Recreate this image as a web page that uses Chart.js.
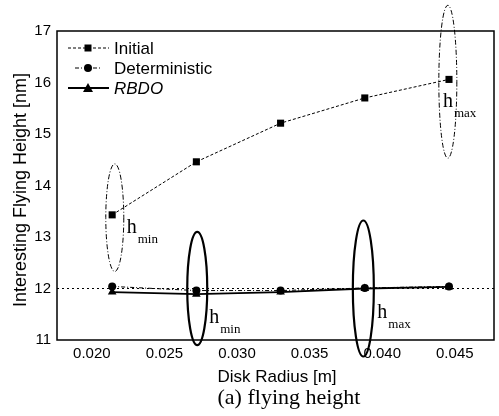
<!DOCTYPE html>
<html>
<head>
<meta charset="utf-8">
<script src="https://cdn.jsdelivr.net/npm/chart.js@4.4.0/dist/chart.umd.min.js"></script>
<style>
  html, body { margin: 0; padding: 0; background: #fff; }
  #wrap { width: 499px; height: 416px; }
</style>
</head>
<body>
<div id="wrap"><canvas id="myChart" width="499" height="416"></canvas></div>
<script>
// data
const radius = [0.0214, 0.0272, 0.0330, 0.0388, 0.0446];
const initial = [13.43, 14.46, 15.21, 15.70, 16.06];
const deterministic = [12.04, 11.96, 11.96, 12.01, 12.04];
const rbdo = [11.93, 11.89, 11.93, 12.00, 12.03];
const refLevel = 12;
const xRange = [0.0176, 0.0477];
const yRange = [11, 17];
const xTicks = [0.020, 0.025, 0.030, 0.035, 0.040, 0.045];
const yTicks = [11, 12, 13, 14, 15, 16, 17];
const seriesNames = ['Initial', 'Deterministic', 'RBDO'];

// highlight ellipses (data units, half width in px)
const ellipses = [
  { x: 0.02158, top: 14.42, bottom: 12.33, rx: 9, bold: false },
  { x: 0.02726, top: 13.10, bottom: 10.90, rx: 10, bold: true },
  { x: 0.03870, top: 13.32, bottom: 10.68, rx: 10.5, bold: true },
  { x: 0.04452, top: 17.50, bottom: 14.53, rx: 9, bold: false }
];
const hLabels = [
  { x: 0.0224, y: 13.08, sub: 'min' },
  { x: 0.02808, y: 11.33, sub: 'min' },
  { x: 0.03966, y: 11.43, sub: 'max' },
  { x: 0.04418, y: 15.52, sub: 'max' }
];

const sans = '"Liberation Sans", Arial, sans-serif';
const serif = '"Liberation Serif", "Times New Roman", serif';
const pts = (ys) => radius.map((r, i) => ({ x: r, y: ys[i] }));

const extras = {
  id: 'extras',
  afterDraw(chart) {
    const { ctx, chartArea: a, scales: { x, y } } = chart;
    ctx.save();
    // plot frame
    ctx.strokeStyle = '#000';
    ctx.lineWidth = 1.5;
    ctx.setLineDash([]);
    ctx.strokeRect(a.left, a.top, a.right - a.left, a.bottom - a.top);

    // ellipses
    ellipses.forEach(e => {
      const cx = x.getPixelForValue(e.x);
      const yt = y.getPixelForValue(e.top), yb = y.getPixelForValue(e.bottom);
      ctx.beginPath();
      ctx.ellipse(cx, (yt + yb) / 2, e.rx, (yb - yt) / 2, 0, 0, Math.PI * 2);
      ctx.lineWidth = e.bold ? 2.2 : 1;
      ctx.setLineDash(e.bold ? [] : [5, 2, 1, 2]);
      ctx.stroke();
    });
    ctx.setLineDash([]);

    // h labels
    ctx.fillStyle = '#000';
    ctx.textBaseline = 'alphabetic';
    ctx.textAlign = 'left';
    hLabels.forEach(l => {
      const px = x.getPixelForValue(l.x), py = y.getPixelForValue(l.y);
      ctx.font = '20px ' + serif;
      ctx.fillText('h', px, py);
      const w = ctx.measureText('h').width;
      ctx.font = '13px ' + serif;
      ctx.fillText(l.sub, px + w + 1, py + 10);
    });

    // legend
    const ds = chart.data.datasets;
    const rows = [48, 68, 88];
    [0, 1, 2].forEach(i => {
      const d = ds[i];
      const yy = rows[i];
      ctx.beginPath();
      ctx.strokeStyle = '#000';
      ctx.lineWidth = d.borderWidth;
      ctx.setLineDash(d.borderDash || []);
      ctx.moveTo(i === 1 ? 75 : 68, yy);
      ctx.lineTo(i === 1 ? 101 : 109, yy);
      ctx.stroke();
      ctx.setLineDash([]);
      const mx = 88;
      ctx.beginPath();
      if (d.pointStyle === 'rect') {
        ctx.rect(mx - 3.5, yy - 3.5, 7, 7);
      } else if (d.pointStyle === 'circle') {
        ctx.arc(mx, yy, 4, 0, Math.PI * 2);
      } else {
        ctx.moveTo(mx, yy - 5);
        ctx.lineTo(mx + 5, yy + 4);
        ctx.lineTo(mx - 5, yy + 4);
        ctx.closePath();
      }
      ctx.fill();
      ctx.font = (i === 2 ? 'italic ' : '') + '17px ' + sans;
      ctx.textBaseline = 'middle';
      ctx.fillText(seriesNames[i], 114, yy + 1);
    });

    // axis titles and caption
    ctx.textAlign = 'center';
    ctx.textBaseline = 'middle';
    ctx.font = '17px ' + sans;
    ctx.fillText('Disk Radius [m]', 277, 377);
    ctx.font = '22px ' + serif;
    ctx.fillText('(a) flying height', 289, 398);
    ctx.save();
    ctx.translate(21, 190);
    ctx.rotate(-Math.PI / 2);
    ctx.font = '18px ' + sans;
    ctx.fillText('Interesting Flying Height [nm]', 0, 0);
    ctx.restore();
    ctx.restore();
  }
};

new Chart(document.getElementById('myChart').getContext('2d'), {
  type: 'scatter',
  data: {
    datasets: [
      {
        label: seriesNames[0], data: pts(initial), showLine: true,
        borderColor: '#000', backgroundColor: '#000', borderWidth: 1, borderDash: [3, 2],
        pointStyle: 'rect', pointRadius: 5, pointBorderWidth: 0
      },
      {
        label: seriesNames[1], data: pts(deterministic), showLine: true,
        borderColor: '#000', backgroundColor: '#000', borderWidth: 1, borderDash: [4, 2, 1, 2],
        pointStyle: 'circle', pointRadius: 4, pointBorderWidth: 0
      },
      {
        label: seriesNames[2], data: pts(rbdo), showLine: true,
        borderColor: '#000', backgroundColor: '#000', borderWidth: 1.8,
        pointStyle: 'triangle', pointRadius: 5, pointBorderWidth: 0
      },
      {
        label: 'ref', data: xRange.map(v => ({ x: v, y: refLevel })), showLine: true,
        borderColor: '#000', borderWidth: 1, borderDash: [2, 3], pointRadius: 0
      }
    ]
  },
  options: {
    responsive: false,
    animation: false,
    layout: { padding: { left: 0, right: 2, top: 31, bottom: 0 } },
    plugins: { legend: { display: false }, tooltip: { enabled: false } },
    scales: {
      x: {
        type: 'linear', min: xRange[0], max: xRange[1],
        afterFit: s => { s.height = 76; },
        afterBuildTicks: s => { s.ticks = xTicks.map(v => ({ value: v })); },
        grid: { display: false, drawTicks: false },
        border: { display: false },
        ticks: {
          padding: 5, color: '#000', maxRotation: 0,
          font: { family: sans, size: 15 },
          callback: v => v.toFixed(3)
        }
      },
      y: {
        min: yRange[0], max: yRange[1],
        afterFit: s => { s.width = 57; },
        afterBuildTicks: s => { s.ticks = yTicks.map(v => ({ value: v })); },
        grid: { display: false, drawTicks: false },
        border: { display: false },
        ticks: {
          padding: 6, color: '#000',
          font: { family: sans, size: 15 }
        }
      }
    }
  },
  plugins: [extras]
});
</script>
</body>
</html>
